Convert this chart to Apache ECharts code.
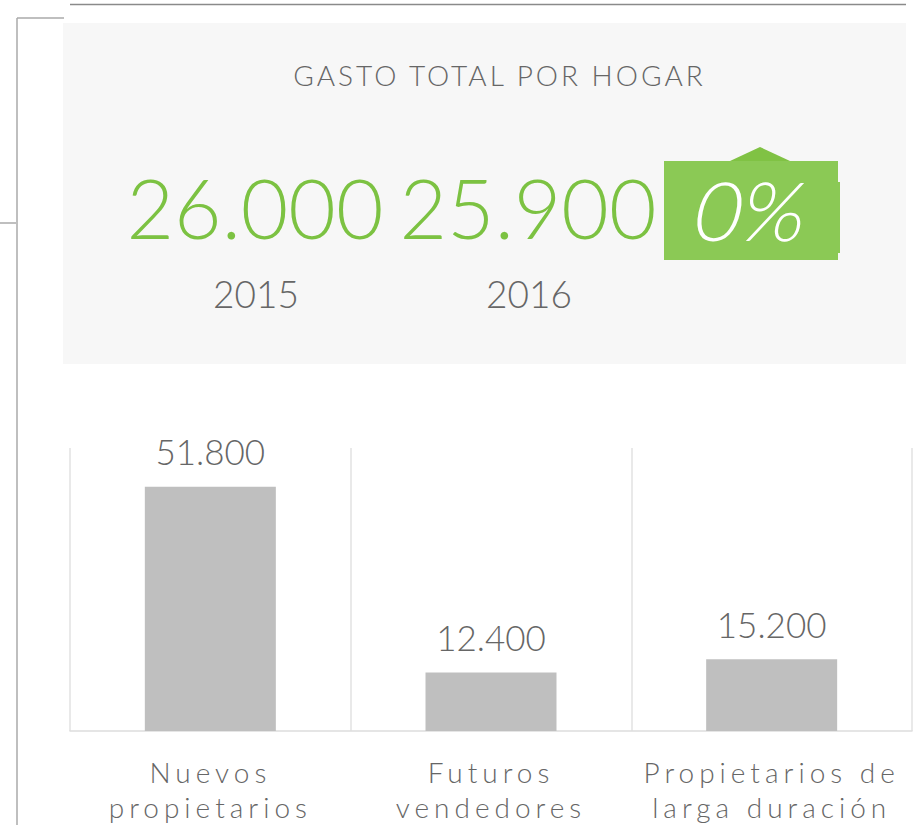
<!DOCTYPE html>
<html>
<head>
<meta charset="utf-8">
<script src="https://cdn.jsdelivr.net/npm/echarts@6/dist/echarts.min.js"></script>
<style>
  html, body { margin: 0; padding: 0; background: #fff; }
  #main { width: 917px; height: 825px; }
</style>
</head>
<body>
<div id="main"></div>
<script>
  // datos
  let titulo = 'GASTO TOTAL POR HOGAR'
  let anios = ['2015', '2016']
  let gastoTotal = [26000, 25900]
  let categorias = ['Nuevos\npropietarios', 'Futuros\nvendedores', 'Propietarios de\nlarga duración']
  let valores = [51800, 12400, 15200]
  let yMax = 60000

  // 51800 -> 51.800
  function fmt (v) {
    return String(v).replace(/\B(?=(\d{3})+(?!\d))/g, '.')
  }
  let variacion = Math.abs(Math.round((gastoTotal[1] - gastoTotal[0]) / gastoTotal[0] * 100)) + '%'

  let gris = '#666'
  let verde = '#7cc242'
  let fuente = 'Lato'

  function texto (x, y, txt, size, color, extra) {
    return {
      type: 'text',
      x: x,
      y: y,
      style: Object.assign({
        text: txt,
        fill: color,
        fontFamily: fuente,
        fontWeight: 300,
        fontSize: size,
        align: 'center',
        verticalAlign: 'middle'
      }, extra || {})
    }
  }

  let chart = echarts.init(document.getElementById('main'), null, {renderer: 'svg'})
  chart.setOption({
    animation: false,
    graphic: [
      // lineas de marco
      {type: 'line', shape: {x1: 70, y1: 4.5, x2: 906, y2: 4.5}, style: {stroke: '#8a8a8a', lineWidth: 1.5}},
      {type: 'line', shape: {x1: 17, y1: 18, x2: 64, y2: 18}, style: {stroke: '#aaa', lineWidth: 1.5}},
      {type: 'line', shape: {x1: 17, y1: 18, x2: 17, y2: 825}, style: {stroke: '#aaa', lineWidth: 1.5}},
      {type: 'line', shape: {x1: 0, y1: 223, x2: 16, y2: 223}, style: {stroke: '#aaa', lineWidth: 1.5}},
      // panel superior
      {type: 'rect', shape: {x: 63, y: 23, width: 843, height: 341}, style: {fill: '#f7f7f7'}},
      texto(498, 75, titulo, 28, gris),
      texto(255, 207, fmt(gastoTotal[0]), 82, verde),
      texto(528, 207, fmt(gastoTotal[1]), 82, verde),
      texto(256, 293, anios[0], 37, gris),
      texto(529, 293, anios[1], 37, gris),
      {type: 'polygon', shape: {points: [[730, 161], [760, 147], [790, 161]]}, style: {fill: '#80c244'}},
      {type: 'rect', shape: {x: 837, y: 182, width: 3, height: 71}, style: {fill: '#8bc955'}},
      {type: 'rect', shape: {x: 664, y: 161, width: 174, height: 99}, style: {fill: '#8bc955'}},
      texto(752, 209, variacion, 82, '#fff')
    ],
    grid: {left: 70, top: 448, width: 842, height: 283},
    xAxis: {
      type: 'category',
      data: categorias,
      axisLine: {lineStyle: {color: '#ddd', width: 1.5}},
      axisTick: {show: false},
      splitLine: {show: true, lineStyle: {color: '#e2e2e2', width: 1.5}},
      axisLabel: {
        interval: 0,
        color: gris,
        fontFamily: fuente,
        fontWeight: 300,
        fontSize: 28,
        lineHeight: 35,
        margin: 23
      }
    },
    yAxis: {
      type: 'value',
      min: 0,
      max: yMax,
      show: false,
      splitLine: {show: false}
    },
    series: [{
      type: 'bar',
      data: valores,
      barWidth: 131,
      itemStyle: {color: '#bfbfbf'},
      label: {
        show: true,
        position: 'top',
        distance: 18,
        color: gris,
        fontFamily: fuente,
        fontWeight: 300,
        fontSize: 35,
        formatter: p => fmt(p.value)
      }
    }]
  })

  // espaciado de letras en etiquetas de categoria y titulo, cursiva del porcentaje
  let lineas = []
  categorias.forEach(c => c.split('\n').forEach(l => lineas.push(l)))
  function espaciar () {
    document.querySelectorAll('#main text').forEach(t => {
      if (lineas.indexOf(t.textContent) >= 0) {
        t.style.letterSpacing = '5px'
        t.setAttribute('dx', '0')
      } else if (t.textContent === titulo) {
        t.style.letterSpacing = '3px'
        t.setAttribute('dx', '1.5')
      } else if (t.textContent === variacion && !t.dataset.ok) {
        let cx = parseFloat(t.getAttribute('x') || 0)
        let cy = parseFloat(t.getAttribute('y') || 0)
        let tr = t.getAttribute('transform') || ''
        t.setAttribute('transform', tr + ' translate(' + cx + ',' + cy + ') skewX(-12) translate(' + (-cx) + ',' + (-cy) + ')')
        t.dataset.ok = '1'
      }
    })
  }
  chart.on('finished', espaciar)
  espaciar()
</script>
</body>
</html>
